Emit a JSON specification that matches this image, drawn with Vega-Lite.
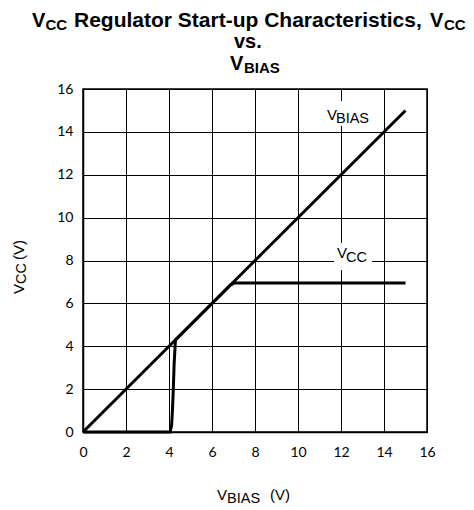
{
  "$schema": "https://vega.github.io/schema/vega-lite/v6.json",
  "width": 344,
  "height": 343,
  "autosize": {"type": "none"},
  "padding": {"left": 83, "top": 89, "right": 47, "bottom": 78},
  "background": "white",
  "config": {"view": {"stroke": "black", "strokeWidth": 1.5}},
  "datasets": {
    "curves": [
      {"series": "VBIAS", "x": 0, "y": 0},
      {"series": "VBIAS", "x": 15, "y": 15},
      {"series": "VCC", "x": 0, "y": 0},
      {"series": "VCC", "x": 4.05, "y": 0},
      {"series": "VCC", "x": 4.12, "y": 0.3},
      {"series": "VCC", "x": 4.16, "y": 1},
      {"series": "VCC", "x": 4.2, "y": 2},
      {"series": "VCC", "x": 4.24, "y": 3.2},
      {"series": "VCC", "x": 4.3, "y": 4.3},
      {"series": "VCC", "x": 6.85, "y": 6.85},
      {"series": "VCC", "x": 7.05, "y": 6.95},
      {"series": "VCC", "x": 15, "y": 6.95}
    ],
    "boxes": [
      {"x": 11.116, "x2": 13.581, "y": 15.44, "y2": 14.27},
      {"x": 11.674, "x2": 13.442, "y": 8.816, "y2": 7.557}
    ],
    "labels": [
      {"t": "V", "x": -2.372, "y": 18.892, "k": "tb"},
      {"t": "CC", "x": -1.744, "y": 18.752, "k": "ts"},
      {"t": "Regulator Start-up Characteristics,", "x": -0.419, "y": 18.892, "k": "tm"},
      {"t": "V", "x": 16.14, "y": 18.892, "k": "tb"},
      {"t": "CC", "x": 16.79, "y": 18.752, "k": "ts"},
      {"t": "vs.", "x": 7.023, "y": 17.92, "k": "tb"},
      {"t": "V", "x": 6.837, "y": 16.886, "k": "tb"},
      {"t": "BIAS", "x": 7.488, "y": 16.746, "k": "ts"},
      {"t": "V", "x": 6.233, "y": -3.172, "k": "ab"},
      {"t": "BIAS", "x": 6.698, "y": -3.312, "k": "as"},
      {"t": "(V)", "x": 8.698, "y": -3.172, "k": "ab"},
      {"t": "V", "x": 11.349, "y": 14.554, "k": "ab"},
      {"t": "BIAS", "x": 11.767, "y": 14.414, "k": "as"},
      {"t": "V", "x": 11.814, "y": 8.117, "k": "ab"},
      {"t": "CC", "x": 12.233, "y": 7.93, "k": "as"},
      {"t": "V", "x": -2.744, "y": 6.437, "k": "yb"},
      {"t": "CC", "x": -2.628, "y": 6.904, "k": "ys"},
      {"t": "(V)", "x": -2.744, "y": 8.023, "k": "yb"}
    ]
  },
  "encoding": {
    "x": {
      "field": "x", "type": "quantitative",
      "scale": {"domain": [0, 16], "nice": false, "zero": false},
      "axis": {
        "title": null, "values": [0, 2, 4, 6, 8, 10, 12, 14, 16],
        "grid": true, "gridColor": "black", "gridOpacity": 1, "gridWidth": 1,
        "ticks": false, "domainColor": "black", "domainWidth": 1.5,
        "labelFont": "Lato", "labelFontSize": 14, "labelColor": "black",
        "labelPadding": 13, "labelFlush": false, "labelOverlap": false
      }
    },
    "y": {
      "field": "y", "type": "quantitative",
      "scale": {"domain": [0, 16], "nice": false, "zero": false},
      "axis": {
        "title": null, "values": [0, 2, 4, 6, 8, 10, 12, 14, 16],
        "grid": true, "gridColor": "black", "gridOpacity": 1, "gridWidth": 1,
        "ticks": false, "domainColor": "black", "domainWidth": 1.5,
        "labelFont": "Lato", "labelFontSize": 14, "labelColor": "black",
        "labelPadding": 10, "labelFlush": false, "labelOverlap": false
      }
    }
  },
  "layer": [
    {
      "data": {"name": "boxes"},
      "mark": {"type": "rect", "fill": "white"},
      "encoding": {"x2": {"field": "x2"}, "y2": {"field": "y2"}}
    },
    {
      "data": {"name": "curves"},
      "mark": {"type": "line", "strokeWidth": 3, "color": "black", "clip": false},
      "encoding": {"detail": {"field": "series", "type": "nominal"}}
    },
    {
      "data": {"name": "labels"},
      "transform": [{"filter": "datum.k === 'tb'"}],
      "mark": {"type": "text", "align": "left", "baseline": "alphabetic", "font": "Liberation Sans", "fontSize": 20, "fontWeight": "bold", "color": "black"},
      "encoding": {"text": {"field": "t"}}
    },
    {
      "data": {"name": "labels"},
      "transform": [{"filter": "datum.k === 'tm'"}],
      "mark": {"type": "text", "align": "left", "baseline": "alphabetic", "font": "Liberation Sans", "fontSize": 21, "fontWeight": "bold", "color": "black"},
      "encoding": {"text": {"field": "t"}}
    },
    {
      "data": {"name": "labels"},
      "transform": [{"filter": "datum.k === 'ts'"}],
      "mark": {"type": "text", "align": "left", "baseline": "alphabetic", "font": "Liberation Sans", "fontSize": 15, "fontWeight": "bold", "color": "black"},
      "encoding": {"text": {"field": "t"}}
    },
    {
      "data": {"name": "labels"},
      "transform": [{"filter": "datum.k === 'ab'"}],
      "mark": {"type": "text", "align": "left", "baseline": "alphabetic", "font": "Liberation Sans", "fontSize": 15, "color": "black"},
      "encoding": {"text": {"field": "t"}}
    },
    {
      "data": {"name": "labels"},
      "transform": [{"filter": "datum.k === 'as'"}],
      "mark": {"type": "text", "align": "left", "baseline": "alphabetic", "font": "Liberation Sans", "fontSize": 14.5, "color": "black"},
      "encoding": {"text": {"field": "t"}}
    },
    {
      "data": {"name": "labels"},
      "transform": [{"filter": "datum.k === 'yb'"}],
      "mark": {"type": "text", "align": "left", "baseline": "alphabetic", "angle": 270, "font": "Liberation Sans", "fontSize": 15, "color": "black"},
      "encoding": {"text": {"field": "t"}}
    },
    {
      "data": {"name": "labels"},
      "transform": [{"filter": "datum.k === 'ys'"}],
      "mark": {"type": "text", "align": "left", "baseline": "alphabetic", "angle": 270, "font": "Liberation Sans", "fontSize": 14.5, "color": "black"},
      "encoding": {"text": {"field": "t"}}
    }
  ]
}
